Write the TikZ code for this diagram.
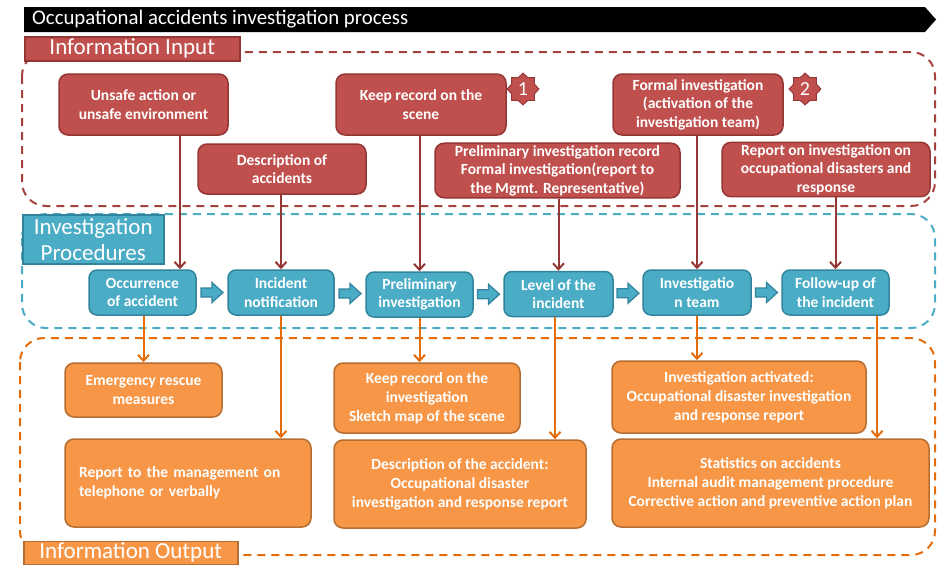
\documentclass[tikz,border=0pt]{standalone}
\usepackage{fontspec}
\setmainfont{Carlito}
\usetikzlibrary{arrows.meta,shapes.geometric,calc}
\definecolor{rfill}{HTML}{C0504D}
\definecolor{rdraw}{HTML}{943634}
\definecolor{rline}{HTML}{953735}
\definecolor{rdash}{HTML}{A5423E}
\definecolor{bfill}{HTML}{4BACC6}
\definecolor{bdraw}{HTML}{31849B}
\definecolor{bdash}{HTML}{4BACC6}
\definecolor{ofill}{HTML}{F79646}
\definecolor{odraw}{HTML}{B66D31}
\definecolor{oline}{HTML}{E46C0A}
\begin{document}
\begin{tikzpicture}[x=1pt,y=-1pt,
  box/.style={rounded corners=9pt, line width=1.5pt, text=white,
    font=\fontsize{15.5}{18.5}\selectfont\bfseries, align=center, inner sep=2pt},
  redbox/.style={box, fill=rfill, draw=rdraw},
  bluebox/.style={box, fill=bfill, draw=bdraw, rounded corners=8pt, minimum height=45},
  orangebox/.style={box, fill=ofill, draw=odraw, font=\fontsize{15.5}{19}\selectfont\bfseries},
  region/.style={line width=2pt, dash pattern=on 8pt off 6pt, rounded corners=24pt},
  labelbox/.style={anchor=north west, line width=1.5pt, text=white, inner sep=0pt,
    font=\fontsize{23}{26}\selectfont, align=center},
  badge/.style={star, star points=8, star point ratio=1.3, minimum size=32pt, inner sep=0pt,
    fill=rfill, draw=rdraw, line width=1pt, text=white, font=\fontsize{20}{20}\selectfont},
  redarr/.style={draw=rline, line width=2pt, -{Straight Barb[length=6pt,width=11pt]}},
  orarr/.style={draw=oline, line width=2pt, -{Straight Barb[length=6pt,width=11pt]}},
  blockarr/.pic={\draw[fill=bfill, draw=bdraw, line width=1.2pt]
    (-11,-4.5) -- (0,-4.5) -- (0,-10) -- (11,0) -- (0,10) -- (0,4.5) -- (-11,4.5) -- cycle;}
]
\useasboundingbox (0,0) rectangle (939,565);

% title bar
\fill[black] (24,7) -- (925,7) -- (936,19.5) -- (925,32) -- (24,32) -- cycle;
\node[anchor=west, text=white, font=\fontsize{20.8}{24}\selectfont, inner sep=0pt] (title) at (32,19.5)
  {Occupational accidents investigation process};

% regions
\draw[region, draw=rdash] (22,52) rectangle (935,206);
\draw[region, draw=bdash] (22,214) rectangle (935,328);
\draw[region, draw=oline] (20,338) rectangle (935,555);

% red input boxes
\node[redbox, minimum width=169, minimum height=61] (u) at (143.5,104.5) {Unsafe action or\\unsafe environment};
\node[redbox, minimum width=168, minimum height=50] (desc) at (282,169) {Description of\\accidents};
\node[redbox, minimum width=170, minimum height=61] (keep) at (421,104.5) {Keep record on the\\scene};
\node[redbox, minimum width=245, minimum height=53] (prelrec) at (557.5,170.5)
  {Preliminary investigation record\\Formal investigation(report to\\the Mgmt. Representative)};
\node[redbox, minimum width=170, minimum height=61] (formal) at (698,104.5)
  {Formal investigation\\(activation of the\\investigation team)};
\node[redbox, minimum width=208, minimum height=51] (report) at (826,169.5)
  {Report on investigation on\\occupational disasters and\\response};
\node[badge] (b1) at (523,89) {1};
\node[badge] (b2) at (805,89) {2};

% blue procedure boxes
\node[bluebox, minimum width=107] (occ) at (142.5,292.5) {Occurrence\\of accident};
\node[bluebox, minimum width=106] (inc) at (281,292.5) {Incident\\notification};
\node[bluebox, minimum width=107] (pre) at (419.5,294.5) {Preliminary\\investigation};
\node[bluebox, minimum width=109] (lvl) at (558.5,294) {Level of the\\incident};
\node[bluebox, minimum width=108] (team) at (697,292.5) {Investigatio\\n team};
\node[bluebox, minimum width=107] (fol) at (835.5,292.5) {Follow-up of\\the incident};

\pic at ($(occ.east)!0.5!(inc.west)$) {blockarr};
\pic at ($(inc.east)!0.5!(pre.west)$) {blockarr};
\pic at ($(pre.east)!0.5!(lvl.west)$) {blockarr};
\pic at ($(lvl.east)!0.5!(team.west)$) {blockarr};
\pic at ($(team.east)!0.5!(fol.west)$) {blockarr};

% orange output boxes
\node[orangebox, minimum width=157, minimum height=54] (emg) at (143.5,390) {Emergency rescue\\measures};
\node[orangebox, minimum width=246, minimum height=88, text width=218, align=left] (rep) at (188,483)
  {Report to the management on\\telephone or verbally};
\node[orangebox, minimum width=186, minimum height=70] (keep2) at (427,398)
  {Keep record on the\\investigation\\Sketch map of the scene};
\node[orangebox, minimum width=252, minimum height=88] (descacc) at (460,484)
  {Description of the accident:\\Occupational disaster\\investigation and response report};
\node[orangebox, minimum width=254, minimum height=72] (act) at (739,397)
  {Investigation activated:\\Occupational disaster investigation\\and response report};
\node[orangebox, minimum width=317, minimum height=88] (stat) at (770.5,483)
  {Statistics on accidents\\Internal audit management procedure\\Corrective action and preventive action plan};

% red connectors
\coordinate (occin) at ([xshift=37.5]occ.north);
\draw[redarr] (occin |- u.south) -- (occin);
\draw[redarr] (inc.north |- desc.south) -- (inc.north);
\draw[redarr] (pre.north |- keep.south) -- (pre.north);
\draw[redarr] (lvl.north |- prelrec.south) -- (lvl.north);
\draw[redarr] (team.north |- formal.south) -- (team.north);
\draw[redarr] (fol.north |- report.south) -- (fol.north);

% orange connectors
\draw[orarr] (emg.north |- occ.south) -- (emg.north);
\draw[orarr] (inc.south) -- (inc.south |- rep.north);
\draw[orarr] (pre.south) -- (pre.south |- keep2.north);
\coordinate (lvlout) at ([xshift=-3.5]lvl.south);
\draw[orarr] (lvlout) -- (lvlout |- descacc.north);
\draw[orarr] (team.south) -- (team.south |- act.north);
\coordinate (folout) at ([xshift=41.5]fol.south);
\draw[orarr] (folout) -- (folout |- stat.north);

% region labels
\node[labelbox, fill=rfill, draw=rdraw, minimum width=215, minimum height=24] (lin) at (24,36) {Information Input};
\node[labelbox, fill=bfill, draw=bdraw, minimum width=141, minimum height=49] (lproc) at (22,214) {Investigation\\Procedures};
\node[labelbox, fill=ofill, draw=odraw, minimum width=214, minimum height=23] (lout) at (23,540.5) {Information Output};
\end{tikzpicture}
\end{document}
